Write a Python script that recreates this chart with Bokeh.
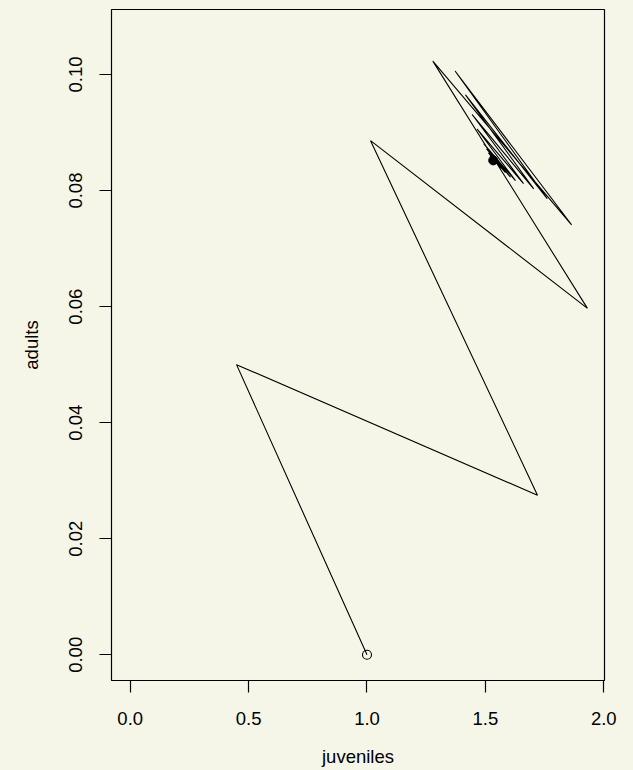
from bokeh.plotting import figure
from bokeh.models import Range1d, FixedTicker, PrintfTickFormatter, GlobalInlineStyleSheet
from bokeh.embed import file_html
from bokeh.resources import INLINE

BG = "#F6F6E8"

# trajectory (juveniles, adults)
juveniles = [1.000, 0.449, 1.720, 1.015, 1.931, 1.278, 1.864, 1.372, 1.761, 1.416,
             1.704, 1.444, 1.661, 1.465, 1.627, 1.493, 1.606, 1.505, 1.585, 1.513,
             1.568, 1.519, 1.556, 1.524, 1.547, 1.530, 1.540, 1.533]
adults = [0.0000, 0.0500, 0.0275, 0.0886, 0.0597, 0.1023, 0.0741, 0.1006, 0.0786, 0.0965,
          0.0803, 0.0931, 0.0812, 0.0906, 0.0817, 0.0881, 0.0823, 0.0872, 0.0831, 0.0865,
          0.0838, 0.0860, 0.0843, 0.0857, 0.0847, 0.0854, 0.0849, 0.0852]

x_ticks = [0.0, 0.5, 1.0, 1.5, 2.0]
y_ticks = [0.00, 0.02, 0.04, 0.06, 0.08, 0.10]

p = figure(width=633, height=770, output_backend="svg", toolbar_location=None,
           x_range=Range1d(-0.079, 2.003), y_range=Range1d(-0.00443, 0.1112),
           min_border_left=111, min_border_right=29, min_border_top=9, min_border_bottom=90,
           background_fill_color=BG, border_fill_color=BG,
           outline_line_color="black", outline_line_width=1.2)
p.stylesheets = [GlobalInlineStyleSheet(css="body{background:%s;}" % BG)]
p.grid.visible = False

p.line(juveniles, adults, line_color="black", line_width=1.1)
p.scatter([juveniles[0]], [adults[0]], marker="circle", size=9,
          fill_color=None, line_color="black", line_width=1.1)
p.scatter([juveniles[-1]], [adults[-1]], marker="circle", size=9,
          fill_color="black", line_color="black")

for ax in (p.xaxis[0], p.yaxis[0]):
    ax.axis_line_color = None
    ax.major_tick_out = 12
    ax.major_tick_in = 0
    ax.minor_tick_line_color = None
    ax.major_tick_line_color = "black"
    ax.major_tick_line_width = 1.2
    ax.major_label_text_font = "Liberation Sans"
    ax.major_label_text_font_size = "18.5px"
    ax.major_label_text_color = "black"
    ax.axis_label_text_font = "Liberation Sans"
    ax.axis_label_text_font_size = "18.5px"
    ax.axis_label_text_font_style = "normal"
    ax.axis_label_text_color = "black"

p.xaxis[0].ticker = FixedTicker(ticks=x_ticks)
p.xaxis[0].formatter = PrintfTickFormatter(format="%.1f")
p.xaxis[0].axis_label = "juveniles"
p.xaxis[0].major_label_standoff = 19
p.xaxis[0].axis_label_standoff = 18

p.yaxis[0].ticker = FixedTicker(ticks=y_ticks)
p.yaxis[0].formatter = PrintfTickFormatter(format="%.2f")
p.yaxis[0].axis_label = "adults"
p.yaxis[0].major_label_orientation = "vertical"
p.yaxis[0].major_label_standoff = 17
p.yaxis[0].axis_label_standoff = 25

open("out.html", "w").write(file_html(p, INLINE))
